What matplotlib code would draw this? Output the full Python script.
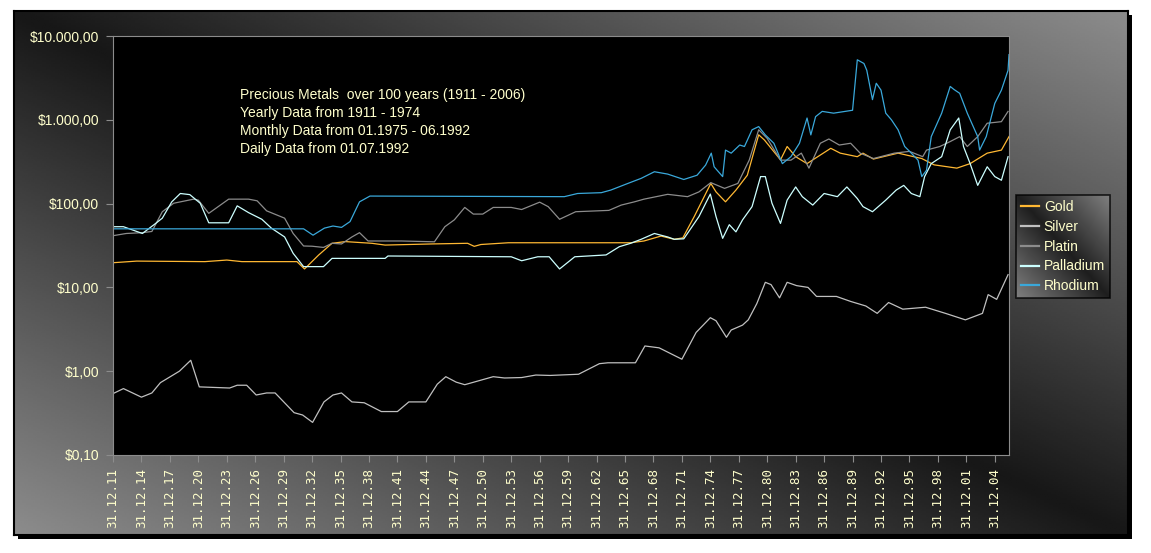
import numpy as np
import matplotlib
matplotlib.use('Agg')
import matplotlib.pyplot as plt
from matplotlib.lines import Line2D
from matplotlib.patches import Rectangle
from matplotlib.ticker import FixedLocator, NullLocator

plt.rcParams['font.family'] = ['Liberation Sans', 'DejaVu Sans']

# ---------------- data (year as decimal, price in USD) ----------------
gold_x = [1912, 1914.5, 1921.7, 1924, 1925.6, 1931.4, 1932.2, 1933.7, 1935.1, 1936.5,
          1939.3, 1940.7, 1945.6, 1949.4, 1950.1, 1950.8, 1953.7, 1966.6, 1968, 1969.8,
          1971.2, 1972.1, 1973.3, 1975.05, 1975.6, 1976.6, 1977.7, 1978.9, 1980.1, 1980.7,
          1982.4, 1983.1, 1984, 1985.2, 1987.7, 1988.7, 1990.5, 1991.1, 1992.2, 1994.8,
          1997.3, 1998.6, 2001, 2002.4, 2004.2, 2005.7, 2006.5]
gold_y = [19.7, 20.6, 20.3, 21.2, 20.3, 20.3, 16.6, 24.4, 33.6, 35.2,
          33.6, 32, 33, 33.6, 30.9, 32.5, 34.1, 34.1, 35.8, 41,
          37.5, 39, 70, 174, 138, 105, 145, 218, 662, 575,
          333, 480, 363, 300, 457, 400, 363, 400, 340, 400,
          345, 290, 265, 300, 400, 435, 630]

silver_x = [1912, 1913.1, 1915.0, 1916.1, 1917, 1919, 1920.2, 1921.1, 1924.3, 1925.1,
            1926.1, 1927.1, 1928.2, 1929.1, 1931.1, 1932, 1933.05, 1934.25, 1935.2, 1936.1,
            1937.2, 1938.5, 1940.3, 1942, 1943.2, 1945, 1946.2, 1947.1, 1948.2, 1949.1,
            1952.1, 1953.3, 1955.1, 1956.6, 1958.1, 1961.1, 1963.3, 1964.2, 1967.1, 1968.1,
            1969.6, 1972, 1973.5, 1975.0, 1975.6, 1976.7, 1977.2, 1978.4, 1979, 1979.9,
            1980.8, 1981.4, 1982.3, 1983.1, 1984.1, 1985.3, 1986.2, 1988.3, 1989.8, 1991.4,
            1992.6, 1993.8, 1995.3, 1997.7, 1999.8, 2001.9, 2003.7, 2004.3, 2005.2, 2006.4]
silver_y = [0.54, 0.62, 0.49, 0.55, 0.73, 1.0, 1.35, 0.65, 0.63, 0.68,
            0.68, 0.52, 0.55, 0.55, 0.32, 0.30, 0.245, 0.43, 0.52, 0.55,
            0.43, 0.42, 0.33, 0.33, 0.43, 0.43, 0.70, 0.86, 0.74, 0.69,
            0.86, 0.83, 0.84, 0.90, 0.89, 0.92, 1.23, 1.26, 1.26, 2.0,
            1.9, 1.39, 2.9, 4.35, 4.0, 2.54, 3.1, 3.55, 4.1, 6.4,
            11.5, 10.8, 7.5, 11.5, 10.5, 10.0, 7.8, 7.8, 6.8, 6.0,
            4.9, 6.6, 5.5, 5.8, 4.9, 4.1, 4.9, 8.2, 7.2, 14.2]

platin_x = [1912, 1913.4, 1915.1, 1916.1, 1917.2, 1918.4, 1920.5, 1921, 1922.1, 1924.2,
            1926.3, 1927.2, 1928.2, 1930.1, 1931, 1932.1, 1933, 1934.2, 1935.1, 1936.1,
            1937.2, 1938, 1938.9, 1940, 1942.4, 1945.9, 1947, 1948, 1949.1, 1950,
            1951, 1952.1, 1954, 1955.1, 1957, 1957.9, 1959.1, 1960.8, 1964.3, 1965.6,
            1967, 1968, 1970.5, 1972.6, 1973.8, 1975.05, 1976.5, 1977.9, 1979.1, 1980.1,
            1981, 1982.4, 1983.5, 1984.6, 1985.4, 1986.6, 1987.5, 1988.6, 1989.8, 1990.8,
            1992.2, 1994.4, 1996, 1997.4, 1997.8, 1999.2, 2000.3, 2001.3, 2002.1, 2003.2,
            2004.2, 2005.7, 2006.4]
platin_y = [41.4, 44, 45, 46.5, 80, 101, 113, 110, 76.5, 113,
            113, 108, 82, 67, 44, 31.2, 31, 30, 33.6, 33,
            40, 45, 35.8, 35.8, 35.8, 35, 53, 64, 90, 75,
            75, 90, 90, 85, 104, 92, 65, 80, 83, 96,
            105, 113, 129, 121, 138, 178, 152, 174, 330, 760,
            600, 330, 330, 400, 265, 525, 590, 500, 525, 400,
            345, 400, 420, 363, 435, 480, 550, 630, 480, 630,
            910, 950, 1260]

palladium_x = [1912, 1913.1, 1915.1, 1916.5, 1917.2, 1918.2, 1919.1, 1920.1, 1921.2, 1922.1,
               1924.2, 1925.1, 1926.3, 1927.7, 1928.7, 1930.1, 1931, 1932.1, 1934.2, 1935.1,
               1940.7, 1941, 1954, 1955.1, 1956.8, 1958, 1959.1, 1960.7, 1964, 1965.4,
               1966.6, 1967.7, 1969.1, 1970.5, 1971.2, 1972.2, 1973.8, 1975.0, 1975.6, 1976.3,
               1977, 1977.7, 1978.4, 1979.4, 1980.3, 1980.8, 1981.5, 1982.4, 1983.1, 1984,
               1984.7, 1985.8, 1987, 1988.4, 1989.4, 1990.5, 1991.1, 1992.1, 1993.5, 1994.6,
               1995.4, 1996.2, 1997.1, 1997.6, 1998.3, 1999.4, 2000.3, 2001.2, 2001.7, 2002.4,
               2003.2, 2004.2, 2005, 2005.7, 2006.4]
palladium_y = [53, 53, 44, 58, 67, 105, 132, 128, 101, 59,
               59, 94, 78, 65, 51, 40, 25.5, 17.7, 17.7, 22.2,
               22.2, 23.7, 23.2, 20.8, 23.2, 23.2, 16.6, 23.2, 24.4, 30.6,
               33.6, 37.5, 44, 40, 37.5, 38, 70, 130, 70, 38.5,
               56, 46, 64, 92, 210, 210, 101, 58, 110, 158,
               121, 96, 132, 121, 158, 115, 92, 80, 110, 145,
               165, 132, 121, 210, 300, 363, 760, 1050, 480, 300,
               165, 275, 210, 190, 363]

rhodium_x = [1912, 1932.1, 1933.1, 1934.3, 1935.2, 1936.1, 1937, 1938, 1939.1, 1959.6,
             1961, 1963.5, 1964.5, 1966.3, 1967.7, 1969.1, 1970.5, 1972.2, 1973.6, 1974.5,
             1975.1, 1975.4, 1976.3, 1976.6, 1977.2, 1978.1, 1978.6, 1979.4, 1980.1, 1980.8,
             1981.7, 1982.6, 1983.5, 1984.4, 1985.2, 1985.6, 1986.1, 1986.8, 1988, 1990,
             1990.5, 1991.2, 1991.5, 1992.1, 1992.5, 1993, 1993.5, 1994.1, 1994.8, 1995.5,
             1996.2, 1996.9, 1997.3, 1997.8, 1998.3, 1999.4, 2000.3, 2000.7, 2001.3, 2002.1,
             2003.2, 2003.4, 2004.1, 2005, 2005.7, 2006.4, 2006.5]
rhodium_y = [50, 50, 42, 51, 54, 52, 61, 105, 123, 121,
             132, 135, 145, 174, 200, 240, 225, 194, 218, 288,
             400, 275, 210, 435, 400, 500, 480, 760, 830, 660,
             525, 300, 363, 525, 1050, 660, 1090, 1260, 1200, 1300,
             5200, 4700, 3900, 1740, 2730, 2260, 1200, 1000, 760, 480,
             400, 330, 210, 250, 630, 1200, 2500, 2300, 2070, 1200,
             630, 435, 630, 1570, 2260, 3900, 6000]

series_names = ['Gold', 'Silver', 'Platin', 'Palladium', 'Rhodium']
series_colors = ['#FFB833', '#C0C0C0', '#8C8C8C', '#CCFFFF', '#3AA8DA']

y_tick_values = [0.1, 1, 10, 100, 1000, 10000]
y_tick_labels = ['$0,10', '$1,00', '$10,00', '$100,00', '$1.000,00', '$10.000,00']
x_tick_years = list(range(1911, 2005, 3))
x_tick_labels = ['31.12.%02d' % (y % 100) for y in x_tick_years]

annotation_lines = ['Precious Metals  over 100 years (1911 - 2006)',
                    'Yearly Data from 1911 - 1974',
                    'Monthly Data from 01.1975 - 06.1992',
                    'Daily Data from 01.07.1992']

# ---------------- figure ----------------
W, H = 1151, 553
fig = plt.figure(figsize=(W / 100, H / 100), dpi=100)
fig.patch.set_facecolor('white')

def fx(px):
    return px / W

def fy(py):
    return 1 - py / H

TXT = '#FFFFCC'

# shadow of the chart frame
shadow = Rectangle((fx(18), fy(539)), fx(1132) - fx(18), fy(15) - fy(539),
                   transform=fig.transFigure, facecolor='black', edgecolor='none', zorder=-3)
fig.add_artist(shadow)

# gradient background frame
bg = fig.add_axes([fx(14), fy(535), fx(1128) - fx(14), fy(11) - fy(535)])
bg.set_zorder(-2)
u = np.linspace(0, 1, 500)[None, :]
v = np.linspace(0, 1, 250)[:, None]
grad = 0.09 + 0.46 * np.abs(u - v)
bg.imshow(grad, cmap='gray', vmin=0, vmax=1, aspect='auto', interpolation='bilinear')
bg.set_xticks([]); bg.set_yticks([])
for s in bg.spines.values():
    s.set_color('black'); s.set_linewidth(1.5)

# main plot area
ax = fig.add_axes([fx(113), fy(455), fx(1009) - fx(113), fy(36) - fy(455)])
ax.set_facecolor('black')
ax.set_yscale('log')

data = [(gold_x, gold_y), (silver_x, silver_y), (platin_x, platin_y),
        (palladium_x, palladium_y), (rhodium_x, rhodium_y)]
for (xs, ys), name, col in zip(data, series_names, series_colors):
    ax.plot(xs, ys, color=col, lw=0.9, label=name)

ax.set_ylim(0.1, 10000)
ax.set_xlim(1912.0, 2006.5)
ax.yaxis.set_major_locator(FixedLocator(y_tick_values))
ax.yaxis.set_minor_locator(NullLocator())
ax.set_yticklabels(y_tick_labels)
ax.set_xticks([y + 1 for y in x_tick_years])
ax.set_xticklabels(x_tick_labels, rotation=90, family='DejaVu Sans Mono')
ax.tick_params(axis='both', which='both', colors='#8C8C8C', labelcolor=TXT,
               length=5, width=0.8, direction='out')
ax.tick_params(axis='y', labelsize=10, pad=5)
ax.tick_params(axis='x', labelsize=9, pad=4)
for s in ax.spines.values():
    s.set_color('#8C8C8C'); s.set_linewidth(0.8)

# annotation text
for i, line in enumerate(annotation_lines):
    fig.text(fx(240), fy(99.3 + 18 * i), line, color=TXT, fontsize=10, va='baseline', ha='left')

# legend
handles = [Line2D([], [], color=c, lw=1.6) for c in series_colors]
leg = fig.legend(handles, series_names, loc='upper left',
                 bbox_to_anchor=(fx(1016), fy(195)), bbox_transform=fig.transFigure,
                 fontsize=10, handlelength=1.3, handletextpad=0.35, labelspacing=0.42,
                 borderpad=0.35, borderaxespad=0, frameon=True, fancybox=False,
                 edgecolor='black', facecolor='none', labelcolor=TXT)
leg.get_frame().set_linewidth(1.2)
leg.set_zorder(5)

fig.canvas.draw()
bb = leg.get_window_extent().transformed(fig.transFigure.inverted())
lax = fig.add_axes([bb.x0, bb.y0, bb.width, bb.height])
lax.set_zorder(1)
lu = np.linspace(0, 1, 100)[None, :]
lv = np.linspace(0, 1, 100)[:, None]
lgrad = 0.12 + 0.38 * np.abs(lu - lv)
lax.imshow(lgrad, cmap='gray', vmin=0, vmax=1, aspect='auto', interpolation='bilinear')
lax.set_axis_off()

fig.savefig('out.png', dpi=100, facecolor='white')
